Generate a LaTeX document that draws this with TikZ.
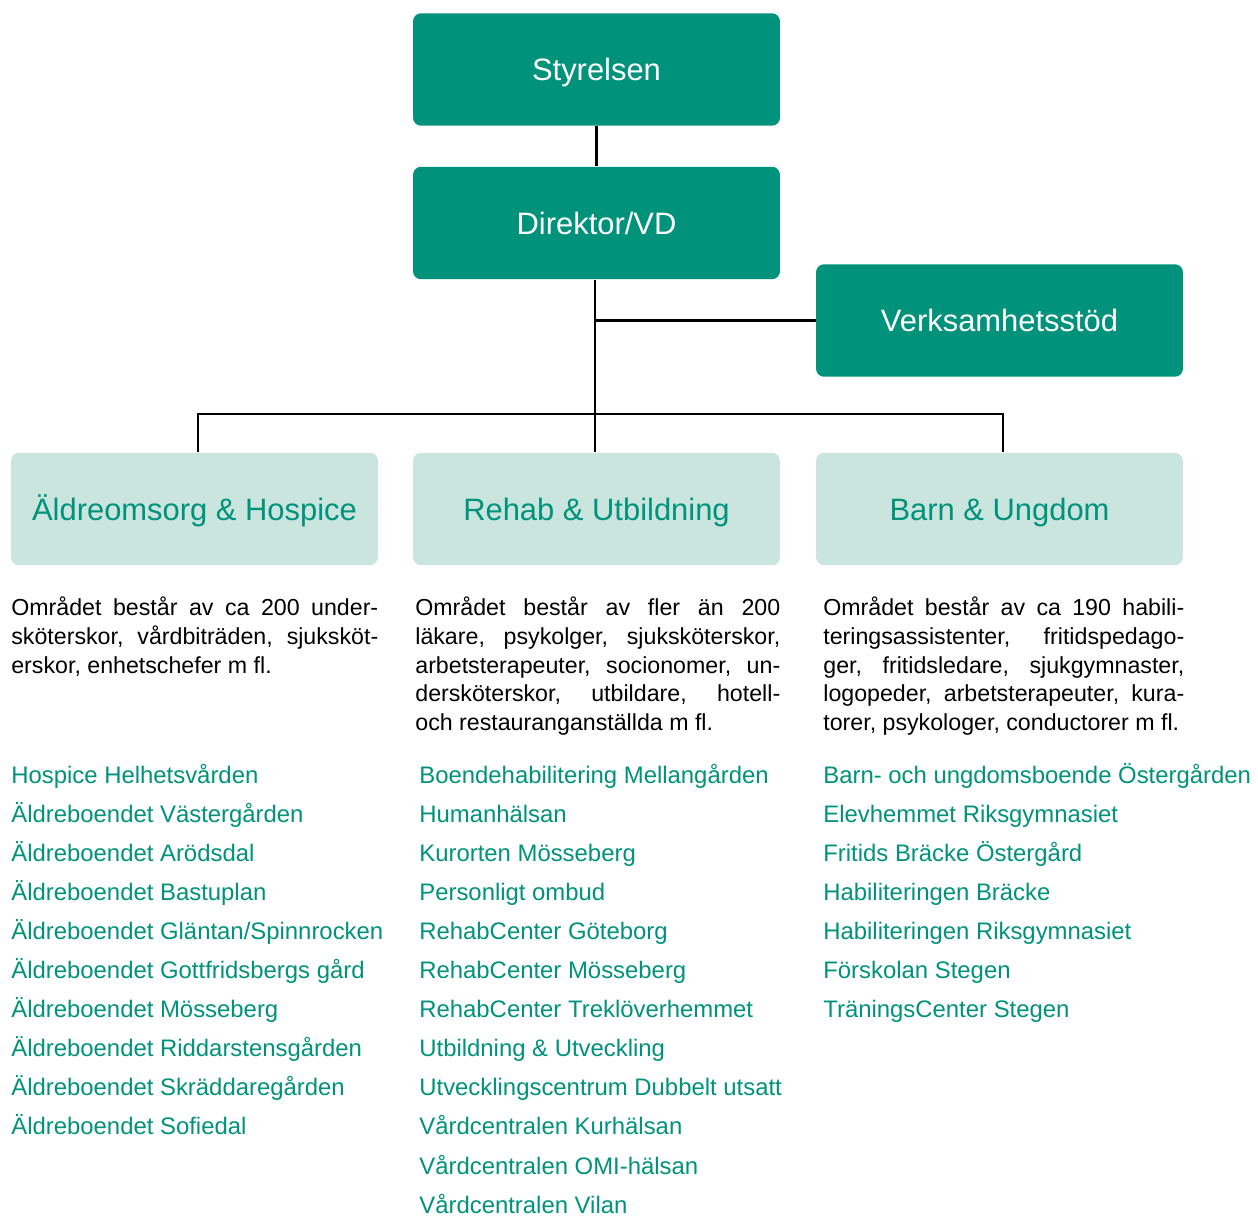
\documentclass[tikz,border=0pt]{standalone}
\usepackage{fontspec}
\setmainfont{Liberation Sans}
\definecolor{vgreen}{RGB}{0,146,122}
\definecolor{vlight}{RGB}{201,229,222}

\begin{document}
\begin{tikzpicture}[x=0.02cm,y=-0.02cm,
head/.style={rectangle, rounded corners=0.16cm, fill=vgreen, text=white, minimum width=7.34cm, minimum height=2.25cm, font=\fontsize{17.6}{20}\selectfont, text height=12.6pt, text depth=0pt},
area/.style={rectangle, rounded corners=0.16cm, fill=vlight, text=vgreen, minimum width=7.34cm, minimum height=2.25cm, font=\fontsize{17.6}{20}\selectfont, text height=12.6pt, text depth=0pt},
desc/.style={anchor=north west, inner sep=0pt, text width=7.34cm, align=justify, font=\fontsize{13.2}{16.4}\selectfont},
unitname/.style={anchor=base west, inner sep=0pt, text=vgreen, font=\fontsize{13.6}{16}\selectfont},
link/.style={line width=1.4pt}]
\useasboundingbox (0,0) rectangle (1258,1217);

\draw (596.5,69.5) node[head] (sty) {Styrelsen};
\draw (596.5,223) node[head] (dir) {Direktor/VD};
\draw (999.5,320.5) node[head] (verk) {Verksamhetsstöd};
\draw (194.5,509) node[area] (aldre) {Äldreomsorg \& Hospice};
\draw (596.5,509) node[area] (rehab) {Rehab \& Utbildning};
\draw (999.5,509) node[area] (barn) {Barn \& Ungdom};
\coordinate (J) at (595,414);

\draw[link] (sty)--(dir);
\draw[link] (J |- dir.south)--(J |- rehab.north);
\draw[link] (J |- verk.west)--(verk.west);
\draw[link] ([xshift=0.07cm]aldre.north) |- (J) -| ([xshift=0.07cm]barn.north);

\draw (11,595) node[desc] (daldre) {\strut Området består av ca 200 under-\linebreak sköterskor, vårdbiträden, sjuksköt-\linebreak erskor, enhetschefer m~fl.};
\draw (415,595) node[desc, text width=7.3cm] (drehab) {\strut Området består av fler än 200\linebreak läkare, psykolger, sjuksköterskor,\linebreak arbetsterapeuter, socionomer, un-\linebreak dersköterskor, utbildare, hotell-\linebreak och restauranganställda m~fl.};
\draw (823,595) node[desc, text width=7.22cm] (dbarn) {\strut Området består av ca 190 habili-\linebreak teringsassistenter, fritidspedago-\linebreak ger, fritidsledare, sjukgymnaster,\linebreak logopeder, arbetsterapeuter, kura-\linebreak torer, psykologer, conductorer m~fl.};

\foreach \txt [count=\i] in {Hospice Helhetsvården, Äldreboendet Västergården, Äldreboendet Arödsdal, Äldreboendet Bastuplan, Äldreboendet Gläntan/Spinnrocken, Äldreboendet Gottfridsbergs gård, Äldreboendet Mösseberg, Äldreboendet Riddarstensgården, Äldreboendet Skräddaregården, Äldreboendet Sofiedal}
  \draw (11,{783+39.1*(\i-1)}) node[unitname] (ua\i) {\txt};
\foreach \txt [count=\i] in {Boendehabilitering Mellangården, Humanhälsan, Kurorten Mösseberg, Personligt ombud, RehabCenter Göteborg, RehabCenter Mösseberg, RehabCenter Treklöverhemmet, Utbildning \& Utveckling, Utvecklingscentrum Dubbelt utsatt, Vårdcentralen Kurhälsan, Vårdcentralen OMI-hälsan, Vårdcentralen Vilan}
  \draw (419,{783+39.1*(\i-1)}) node[unitname] (ur\i) {\txt};
\foreach \txt [count=\i] in {Barn- och ungdomsboende Östergården, Elevhemmet Riksgymnasiet, Fritids Bräcke Östergård, Habiliteringen Bräcke, Habiliteringen Riksgymnasiet, Förskolan Stegen, TräningsCenter Stegen}
  \draw (823,{783+39.1*(\i-1)}) node[unitname] (ub\i) {\txt};
\end{tikzpicture}
\end{document}
